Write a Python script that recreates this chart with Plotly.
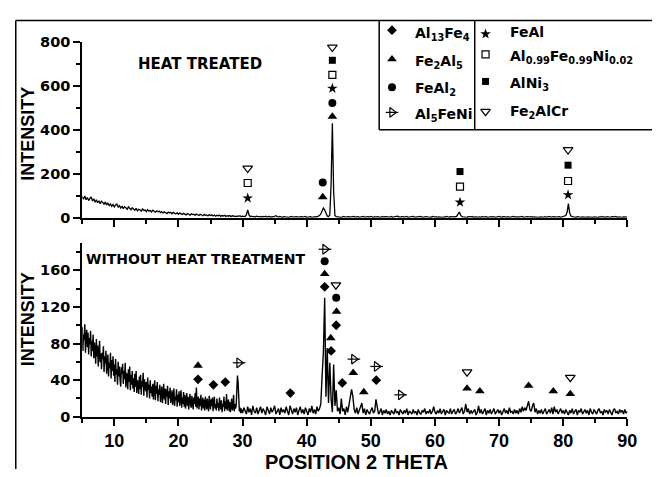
import numpy as np
import plotly.graph_objects as go

# ---------------------------------------------------------------------------
# XRD scans
# ---------------------------------------------------------------------------
# heat treated: 5-90 deg at 0.2 deg
HT_START, HT_STEP, HT_POINTS = 5.0, 0.2, 426
two_theta_ht = np.round(HT_START + HT_STEP * np.arange(HT_POINTS), 2)

# without heat treatment: 5-29.9 deg at 0.1 deg, then 30-90 deg at 0.2 deg
WT_FINE_START, WT_FINE_STEP, WT_FINE_POINTS = 5.0, 0.1, 250
WT_COARSE_START, WT_COARSE_STEP, WT_COARSE_POINTS = 30.0, 0.2, 301
two_theta_wt = np.round(np.concatenate([
    WT_FINE_START + WT_FINE_STEP * np.arange(WT_FINE_POINTS),
    WT_COARSE_START + WT_COARSE_STEP * np.arange(WT_COARSE_POINTS),
]), 2)

# Heat treated sample (counts), one row per 2 degrees
heat_treated = [
    96, 84, 99, 82, 92, 78, 88, 95, 76, 86,      # 5.0
    70, 82, 68, 77, 64, 75, 70, 60, 72, 58,      # 7.0
    66, 55, 63, 52, 60, 49, 58, 62, 47, 55,      # 9.0
    44, 53, 41, 50, 46, 38, 49, 42, 36, 45,      # 11.0
    40, 34, 43, 31, 38, 36, 30, 40, 33, 35,      # 13.0
    28, 37, 30, 33, 26, 34, 29, 25, 31, 27,      # 15.0
    30, 23, 28, 21, 27, 24, 19, 26, 22, 25,      # 17.0
    18, 24, 20, 17, 23, 16, 21, 19, 15, 20,      # 19.0
    17, 13, 19, 15, 12, 18, 14, 16, 11, 17,      # 21.0
    14, 10, 16, 12, 9, 15, 11, 13, 8, 14,        # 23.0
    10, 13, 8, 12, 7, 11, 9, 12, 6, 10,          # 25.0
    8, 11, 6, 9, 7, 10, 5, 9, 7, 8,              # 27.0
    5, 8, 6, 9, 4, 7, 6, 5, 14, 36,              # 29.0
    13, 5, 7, 4, 6, 3, 7, 5, 4, 6,               # 31.0
    3, 6, 4, 7, 3, 5, 6, 2, 5, 4,                # 33.0
    6, 9, 5, 3, 6, 4, 2, 5, 4, 3,                # 35.0
    5, 2, 4, 6, 3, 4, 2, 5, 3, 4,                # 37.0
    2, 5, 3, 4, 6, 2, 4, 3, 5, 2,                # 39.0
    4, 3, 5, 4, 6, 10, 18, 30, 44, 36,           # 41.0
    20, 8, 5, 12, 150, 430, 120, 10, 5, 4,       # 43.0
    3, 5, 2, 4, 6, 3, 4, 2, 5, 3,                # 45.0
    4, 2, 6, 3, 4, 5, 2, 4, 3, 6,                # 47.0
    3, 4, 2, 5, 3, 6, 4, 2, 5, 3,                # 49.0
    5, 3, 4, 2, 6, 3, 5, 4, 2, 4,                # 51.0
    3, 6, 2, 4, 5, 3, 7, 3, 4, 2,                # 53.0
    5, 3, 4, 6, 2, 4, 3, 5, 6, 3,                # 55.0
    2, 4, 5, 3, 6, 2, 4, 3, 5, 4,                # 57.0
    3, 5, 2, 6, 4, 3, 5, 2, 4, 3,                # 59.0
    5, 2, 4, 3, 6, 4, 2, 5, 3, 4,                # 61.0
    5, 4, 7, 14, 26, 12, 5, 4, 3, 4,             # 63.0
    2, 5, 3, 4, 6, 2, 4, 3, 5, 3,                # 65.0
    4, 2, 6, 3, 4, 5, 2, 4, 3, 5,                # 67.0
    3, 5, 2, 4, 3, 6, 4, 2, 5, 3,                # 69.0
    4, 3, 5, 2, 4, 3, 6, 3, 5, 2,                # 71.0
    5, 3, 4, 6, 2, 4, 3, 5, 4, 3,                # 73.0
    6, 2, 4, 3, 5, 3, 2, 4, 5, 3,                # 75.0
    3, 5, 2, 4, 6, 3, 4, 2, 5, 3,                # 77.0
    4, 3, 5, 2, 4, 5, 6, 10, 25, 64,             # 79.0
    22, 8, 5, 3, 4, 2, 5, 3, 4, 2,               # 81.0
    4, 3, 5, 2, 4, 3, 5, 4, 2, 4,                # 83.0
    3, 5, 2, 4, 3, 6, 3, 4, 2, 5,                # 85.0
    3, 4, 2, 5, 3, 4, 6, 2, 4, 3,                # 87.0
    5, 2, 4, 3, 5, 3,                            # 89.0
]

# Sample without heat treatment (counts)
# 5.0-29.9 deg, one row per degree
untreated_low = [
    98, 72, 90, 84, 101, 70, 88, 95, 76, 92,     # 5.0
    68, 86, 79, 94, 66, 83, 72, 90, 64, 81,      # 6.0
    74, 58, 85, 66, 78, 55, 71, 83, 60, 69,      # 7.0
    52, 70, 63, 77, 49, 66, 58, 72, 47, 61,      # 8.0
    68, 44, 59, 53, 70, 42, 62, 50, 66, 45,      # 9.0
    57, 38, 63, 46, 52, 35, 60, 44, 55, 40,      # 10.0
    33, 54, 47, 58, 36, 50, 41, 59, 32, 48,      # 11.0
    45, 30, 52, 38, 55, 29, 46, 35, 50, 31,      # 12.0
    42, 27, 47, 33, 50, 26, 40, 36, 25, 44,      # 13.0
    30, 46, 24, 39, 33, 48, 23, 41, 35, 28,      # 14.0
    38, 21, 43, 29, 35, 20, 40, 26, 33, 22,      # 15.0
    36, 19, 31, 40, 18, 34, 25, 38, 17, 30,      # 16.0
    24, 35, 16, 29, 33, 15, 27, 36, 19, 31,      # 17.0
    14, 30, 22, 34, 13, 28, 20, 32, 15, 26,      # 18.0
    29, 13, 25, 31, 12, 22, 18, 30, 11, 24,      # 19.0
    16, 28, 12, 23, 29, 10, 21, 14, 27, 11,      # 20.0
    24, 9, 20, 26, 12, 22, 8, 19, 25, 13,        # 21.0
    10, 23, 16, 8, 21, 14, 26, 11, 32, 9,        # 22.0
    18, 22, 8, 20, 12, 24, 7, 17, 21, 9,         # 23.0
    19, 7, 22, 13, 8, 20, 15, 6, 23, 11,         # 24.0
    8, 19, 12, 21, 6, 16, 22, 9, 14, 7,          # 25.0
    20, 10, 15, 6, 21, 12, 8, 18, 5, 14,         # 26.0
    11, 22, 6, 17, 9, 25, 7, 15, 19, 6,          # 27.0
    16, 5, 13, 20, 7, 11, 24, 6, 14, 9,          # 28.0
    12, 25, 45, 38, 14, 6, 10, 4, 9, 7,          # 29.0
]
# 30.0-90.0 deg, one row per 2 degrees
untreated_high = [
    4, 10, 6, 3, 11,                             # 30.0
    5, 9, 2, 12, 6, 4, 10, 3, 8, 11,             # 31.0
    4, 9, 6, 2, 11, 7, 3, 10, 5, 8,              # 33.0
    12, 3, 7, 9, 2, 10, 5, 8, 4, 11,             # 35.0
    6, 2, 12, 8, 3, 9, 5, 10, 2, 7,              # 37.0
    11, 4, 8, 3, 10, 6, 2, 9, 5, 12,             # 39.0
    4, 8, 3, 11, 6, 9, 14, 45, 70, 130,          # 41.0
    22, 75, 15, 59, 20, 5, 57, 12, 29, 6,        # 43.0
    10, 3, 20, 6, 9, 2, 11, 5, 14, 18,           # 45.0
    30, 22, 8, 4, 10, 3, 7, 12, 15, 4,           # 47.0
    9, 2, 8, 5, 3, 7, 10, 4, 6, 19,              # 49.0
    8, 3, 5, 9, 2, 7, 4, 8, 3, 6,                # 51.0
    2, 7, 5, 3, 9, 4, 6, 2, 8, 5,                # 53.0
    3, 7, 4, 9, 2, 6, 5, 3, 8, 4,                # 55.0
    6, 2, 8, 4, 3, 7, 5, 9, 3, 6,                # 57.0
    4, 8, 3, 6, 11, 5, 3, 7, 4, 9,               # 59.0
    3, 6, 8, 2, 7, 5, 4, 9, 3, 6,                # 61.0
    8, 3, 5, 9, 4, 7, 10, 3, 6, 14,              # 63.0
    5, 9, 3, 7, 4, 6, 8, 2, 5, 12,               # 65.0
    4, 8, 3, 6, 9, 2, 7, 4, 8, 3,                # 67.0
    6, 9, 3, 5, 8, 4, 7, 2, 6, 9,                # 69.0
    4, 7, 3, 10, 5, 6, 3, 8, 4, 7,               # 71.0
    3, 9, 5, 11, 6, 10, 7, 13, 17, 8,            # 73.0
    6, 12, 15, 5, 9, 3, 7, 4, 8, 3,              # 75.0
    6, 9, 3, 5, 8, 4, 10, 3, 11, 5,              # 77.0
    8, 3, 6, 9, 4, 7, 3, 8, 5, 2,                # 79.0
    7, 4, 9, 3, 6, 8, 2, 7, 5, 9,                # 81.0
    3, 6, 8, 4, 7, 2, 9, 5, 3, 8,                # 83.0
    5, 3, 7, 9, 4, 6, 2, 8, 5, 7,                # 85.0
    3, 8, 5, 2, 7, 9, 4, 6, 3, 8,                # 87.0
    5, 7, 3, 8, 4, 6,                            # 89.0
]
untreated = untreated_low + untreated_high

assert len(heat_treated) == HT_POINTS, len(heat_treated)
assert len(untreated_low) == WT_FINE_POINTS, len(untreated_low)
assert len(untreated_high) == WT_COARSE_POINTS, len(untreated_high)

# ---------------------------------------------------------------------------
# Phase identification marks (2-theta, label height in counts)
# ---------------------------------------------------------------------------
# heat treated
ht_fe2alcr_x, ht_fe2alcr_y = [30.8, 44.0, 80.75], [225, 775, 309]
ht_alfeni_x, ht_alfeni_y = [30.8, 44.0, 63.9, 80.75], [158, 650, 141, 167]
ht_alni3_x, ht_alni3_y = [44.0, 63.9, 80.75], [716, 210, 239]
ht_feal_x, ht_feal_y = [30.8, 44.0, 63.9, 80.75], [89, 588, 70, 104]
ht_feal2_x, ht_feal2_y = [42.5, 44.0], [160, 522]
ht_fe2al5_x, ht_fe2al5_y = [42.5, 44.0], [94, 460]

# without heat treatment
wt_al13fe4_x = [23.05, 25.45, 27.3, 37.45, 42.8, 43.8, 44.6, 45.55, 50.85]
wt_al13fe4_y = [41, 35, 38, 26, 142, 72, 100, 37, 40]
wt_fe2al5_x = [23.05, 42.8, 43.75, 44.65, 47.25, 48.9, 65.0, 67.0, 74.6, 78.45, 81.1]
wt_fe2al5_y = [56, 156, 86, 115, 48, 27, 31, 28, 34, 28, 25]
wt_feal2_x, wt_feal2_y = [42.8, 44.6], [170, 130]
wt_al5feni_x = [29.45, 42.85, 47.35, 50.9, 54.65]
wt_al5feni_y = [59, 183, 63, 55, 24]
wt_fe2alcr_x, wt_fe2alcr_y = [44.55, 65.0, 81.1], [144, 49, 43]

# legend entries (phase key, label)
legend_left = [("Al13Fe4", "Al<sub>13</sub>Fe<sub>4</sub>"),
               ("Fe2Al5", "Fe<sub>2</sub>Al<sub>5</sub>"),
               ("FeAl2", "FeAl<sub>2</sub>"),
               ("Al5FeNi", "Al<sub>5</sub>FeNi")]
legend_right = [("FeAl", "FeAl"),
                ("AlFeNi", "Al<sub>0.99</sub>Fe<sub>0.99</sub>Ni<sub>0.02</sub>"),
                ("AlNi3", "AlNi<sub>3</sub>"),
                ("Fe2AlCr", "Fe<sub>2</sub>AlCr")]

# ---------------------------------------------------------------------------
# Styling
# ---------------------------------------------------------------------------
W, H = 662, 477
ARIAL = "Liberation Sans, Arial, sans-serif"
DEJAVU = "DejaVu Sans, sans-serif"

MARKERS = {
    "Al13Fe4": [("diamond", 7.5)],
    "Fe2Al5": [("triangle-up", 8.5)],
    "FeAl2": [("circle", 8)],
    "Al5FeNi": [("triangle-right-open", 8.5), ("line-ew", 9)],
    "FeAl": [("star", 8)],
    "AlFeNi": [("square-open", 7)],
    "AlNi3": [("square", 7)],
    "Fe2AlCr": [("triangle-down-open", 8.5)],
}


def fx(px):
    return px / W


def fy(py):
    return 1 - py / H


def bold(family, size):
    return dict(family=family, size=size, color="black", weight="bold")


fig = go.Figure()


def add_marks(xs, ys, phase, xa, ya):
    for symbol, size in MARKERS[phase]:
        hollow = symbol.endswith("-open") or symbol.startswith("line")
        fig.add_trace(go.Scatter(
            x=xs, y=ys, mode="markers", xaxis=xa, yaxis=ya,
            marker=dict(symbol=symbol, size=size, color="black",
                        line=dict(color="black", width=1.2 if hollow else 0)),
            cliponaxis=False, showlegend=False, hoverinfo="skip"))


# diffraction patterns
fig.add_trace(go.Scatter(x=two_theta_ht, y=heat_treated, mode="lines",
                         line=dict(color="black", width=1.3), xaxis="x", yaxis="y",
                         showlegend=False, hoverinfo="skip"))
fig.add_trace(go.Scatter(x=two_theta_wt, y=untreated, mode="lines",
                         line=dict(color="black", width=1.4), xaxis="x2", yaxis="y2",
                         showlegend=False, hoverinfo="skip"))

# phase marks, heat treated
add_marks(ht_fe2alcr_x, ht_fe2alcr_y, "Fe2AlCr", "x", "y")
add_marks(ht_alfeni_x, ht_alfeni_y, "AlFeNi", "x", "y")
add_marks(ht_alni3_x, ht_alni3_y, "AlNi3", "x", "y")
add_marks(ht_feal_x, ht_feal_y, "FeAl", "x", "y")
add_marks(ht_feal2_x, ht_feal2_y, "FeAl2", "x", "y")
add_marks(ht_fe2al5_x, ht_fe2al5_y, "Fe2Al5", "x", "y")

# phase marks, without heat treatment
add_marks(wt_al13fe4_x, wt_al13fe4_y, "Al13Fe4", "x2", "y2")
add_marks(wt_fe2al5_x, wt_fe2al5_y, "Fe2Al5", "x2", "y2")
add_marks(wt_feal2_x, wt_feal2_y, "FeAl2", "x2", "y2")
add_marks(wt_al5feni_x, wt_al5feni_y, "Al5FeNi", "x2", "y2")
add_marks(wt_fe2alcr_x, wt_fe2alcr_y, "Fe2AlCr", "x2", "y2")

# legend box (pixel-space overlay axes x3/y3)
LEG_LEFT_SYM = [(398, 23), (398, 53), (398, 82), (398, 108)]
LEG_LEFT_TXT = [(419, 27), (419, 56), (419, 84), (419, 111)]
LEG_RIGHT_SYM = [(493, 27), (493, 48), (493, 76), (493, 107)]
LEG_RIGHT_TXT = [(516, 25), (516, 51), (516, 79), (516, 108)]

annotations = []
for entries, syms, txts in ((legend_left, LEG_LEFT_SYM, LEG_LEFT_TXT),
                            (legend_right, LEG_RIGHT_SYM, LEG_RIGHT_TXT)):
    for (key, label), (sx, sy), (tx, ty) in zip(entries, syms, txts):
        add_marks([sx], [sy], key, "x3", "y3")
        annotations.append(dict(x=tx, y=ty, xref="x3", yref="y3", text="<b>%s</b>" % label,
                                showarrow=False, xanchor="left", yanchor="middle",
                                font=bold(DEJAVU, 14)))

annotations += [
    dict(x=203.5, y=58, xref="x3", yref="y3", text="<b>HEAT TREATED</b>", showarrow=False,
         xanchor="center", yanchor="middle", font=bold(DEJAVU, 15)),
    dict(x=198, y=260, xref="x3", yref="y3", text="<b>WITHOUT HEAT TREATMENT</b>",
         showarrow=False, xanchor="center", yanchor="middle", font=bold(DEJAVU, 14)),
    dict(x=28.5, y=130, xref="x3", yref="y3", text="<b>INTENSITY</b>", showarrow=False,
         textangle=-90, xanchor="center", yanchor="middle", font=bold(ARIAL, 18)),
    dict(x=28.5, y=322, xref="x3", yref="y3", text="<b>INTENSITY</b>", showarrow=False,
         textangle=-90, xanchor="center", yanchor="middle", font=bold(ARIAL, 18)),
    dict(x=361.5, y=470, xref="x3", yref="y3", text="<b>POSITION 2 THETA</b>",
         showarrow=False, xanchor="center", yanchor="middle", font=bold(ARIAL, 20)),
]

frame = dict(color="black", width=1.5)
shapes = [
    dict(type="line", xref="x3", yref="y3", x0=16, x1=16, y0=13, y1=477, line=frame),
    dict(type="line", xref="x3", yref="y3", x0=16, x1=662, y0=13, y1=13, line=frame),
    dict(type="line", xref="x3", yref="y3", x0=385, x1=385, y0=13, y1=126, line=frame),
    dict(type="line", xref="x3", yref="y3", x0=385, x1=662, y0=126, y1=126, line=frame),
    dict(type="line", xref="x3", yref="y3", x0=482, x1=482, y0=13, y1=126, line=frame),
]

axis_style = dict(showline=True, linecolor="black", linewidth=2, ticks="outside",
                  tickcolor="black", tickwidth=2, ticklen=7, showgrid=False,
                  zeroline=False, fixedrange=True, tickprefix="<b>", ticksuffix="</b>")
minor_x = dict(tick0=0, dtick=5, ticks="outside", ticklen=4, tickwidth=2, tickcolor="black")
x_domain = [fx(83.5), fx(637)]

fig.update_layout(
    width=W, height=H,
    margin=dict(l=0, r=0, t=0, b=0, pad=0),
    paper_bgcolor="white", plot_bgcolor="rgba(0,0,0,0)",
    showlegend=False,
    xaxis=dict(domain=x_domain, range=[5, 90], anchor="y", tick0=0, dtick=10,
               showticklabels=False, minor=minor_x, **axis_style),
    yaxis=dict(domain=[fy(217), fy(35)], range=[0, 800], anchor="x", tick0=0, dtick=200,
               tickfont=bold(DEJAVU, 14.5),
               minor=dict(tick0=0, dtick=100, ticks="outside", ticklen=4,
                          tickwidth=2, tickcolor="black"),
               **axis_style),
    xaxis2=dict(domain=x_domain, range=[5, 90], anchor="y2", tick0=0, dtick=10,
                tickfont=bold(ARIAL, 18), minor=minor_x, **axis_style),
    yaxis2=dict(domain=[fy(423), fy(243)], range=[0, 190], anchor="x2", tick0=0, dtick=40,
                tickfont=bold(DEJAVU, 14.5),
                minor=dict(tick0=0, dtick=20, ticks="outside", ticklen=4,
                           tickwidth=2, tickcolor="black"),
                **axis_style),
    xaxis3=dict(domain=[0, 1], range=[0, W], anchor="y3", visible=False, fixedrange=True),
    yaxis3=dict(domain=[0, 1], range=[H, 0], anchor="x3", visible=False, fixedrange=True),
    annotations=annotations,
    shapes=shapes,
)

fig.write_html("out.html")
